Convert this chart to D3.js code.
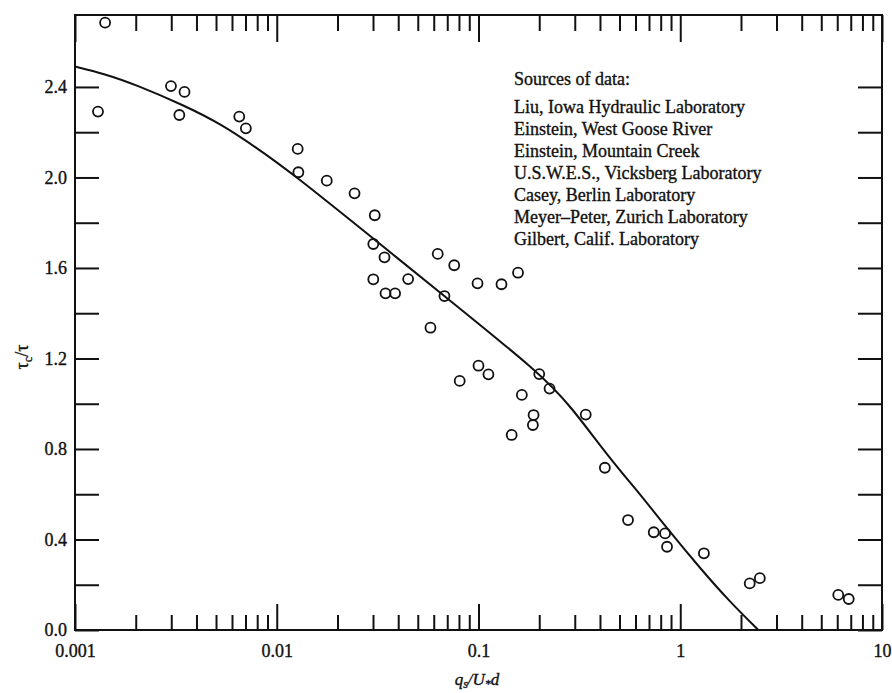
<!DOCTYPE html>
<html>
<head>
<meta charset="utf-8">
<script src="https://cdn.jsdelivr.net/npm/d3@7"></script>
<style>
  body { margin: 0; background: #fff; }
  text { font-family: "Liberation Serif", "Times New Roman", serif; fill: #111; stroke: #111; stroke-width: 0.35px; }
</style>
</head>
<body>
<div id="chart"></div>
<script>
// Critical shear ratio vs dimensionless transport, log x axis

const obsQ = [0.00141, 0.00130, 0.00299, 0.00349, 0.00329, 0.00652, 0.00703,
  0.0127, 0.0128, 0.0177, 0.0243, 0.0306, 0.0301, 0.0342, 0.0301, 0.0346,
  0.0386, 0.0448, 0.0628, 0.0758, 0.0678, 0.0578, 0.0989, 0.130, 0.157,
  0.100, 0.112, 0.0807, 0.200, 0.225, 0.164, 0.1875, 0.186, 0.146, 0.340,
  0.423, 0.551, 0.739, 0.841, 0.860, 1.31, 2.21, 2.48, 6.07, 6.84]
const obsTau = [2.684, 2.291, 2.404, 2.378, 2.276, 2.269, 2.217,
  2.126, 2.023, 1.986, 1.930, 1.833, 1.706, 1.647, 1.550, 1.488,
  1.488, 1.551, 1.662, 1.612, 1.476, 1.336, 1.532, 1.528, 1.579,
  1.168, 1.130, 1.101, 1.131, 1.067, 1.039, 0.950, 0.906, 0.862, 0.952,
  0.717, 0.486, 0.432, 0.427, 0.368, 0.339, 0.206, 0.229, 0.155, 0.137]

// Fitted curve
const fitQ = [0.001, 0.00138, 0.00202, 0.00344, 0.00523, 0.00798, 0.01163,
  0.0301, 0.0669, 0.2017, 0.284, 0.449, 0.632, 0.824, 1.301, 1.765, 2.437]
const fitTau = [2.490, 2.460, 2.409, 2.320, 2.239, 2.130, 2.026,
  1.730, 1.480, 1.135, 0.994, 0.756, 0.601, 0.469, 0.256, 0.124, 0.0]

const xMajor = [0.001, 0.01, 0.1, 1, 10]
const xMinor = [2, 3, 4, 5, 6, 7, 8, 9].flatMap(m => [0.001, 0.01, 0.1, 1].map(d => m * d))
const yMajor = [0.0, 0.4, 0.8, 1.2, 1.6, 2.0, 2.4]
const yMinor = [0.2, 0.6, 1.0, 1.4, 1.8, 2.2]

const sources = [
  "Liu, Iowa Hydraulic Laboratory",
  "Einstein, West Goose River",
  "Einstein, Mountain Creek",
  "U.S.W.E.S., Vicksberg Laboratory",
  "Casey, Berlin Laboratory",
  "Meyer\u2013Peter, Zurich Laboratory",
  "Gilbert, Calif. Laboratory"
]

const OUTER_WIDTH = 892
const OUTER_HEIGHT = 693
const MARGIN = { TOP: 15, RIGHT: 10, BOTTOM: 63, LEFT: 75 }
const WIDTH = OUTER_WIDTH - MARGIN.LEFT - MARGIN.RIGHT
const HEIGHT = OUTER_HEIGHT - MARGIN.TOP - MARGIN.BOTTOM
const INK = "#111"

const svg = d3.select("#chart")
  .append("svg")
  .attr("width", OUTER_WIDTH)
  .attr("height", OUTER_HEIGHT)

const plot = svg.append("g")
  .attr("transform", `translate(${MARGIN.LEFT},${MARGIN.TOP})`)

const x = d3.scaleLog().domain([0.001, 10]).range([0, WIDTH])
const y = d3.scaleLinear().domain([0, 2.718]).range([HEIGHT, 0])

function styleAxis(g) {
  g.select(".domain").remove()
  g.selectAll(".tick line").attr("stroke", INK).attr("stroke-width", 2)
  g.selectAll(".tick text").style("font-size", "18px").attr("fill", INK)
}

// bottom axis, ticks pointing up
plot.append("g")
  .attr("transform", `translate(0,${HEIGHT})`)
  .call(d3.axisBottom(x).tickValues(xMinor).tickSize(-15).tickFormat(""))
  .call(styleAxis)
plot.append("g")
  .attr("transform", `translate(0,${HEIGHT})`)
  .call(d3.axisBottom(x).tickValues(xMajor).tickSize(-26).tickPadding(14)
    .tickFormat(d => String(d)))
  .call(styleAxis)

// top axis, ticks pointing down
plot.append("g")
  .call(d3.axisTop(x).tickValues(xMinor).tickSize(-16).tickFormat(""))
  .call(styleAxis)
plot.append("g")
  .call(d3.axisTop(x).tickValues(xMajor).tickSize(-27).tickFormat(""))
  .call(styleAxis)

// left and right axes
plot.append("g")
  .call(d3.axisLeft(y).tickValues(yMajor).tickSize(-24).tickPadding(8)
    .tickFormat(d3.format(".1f")))
  .call(styleAxis)
plot.append("g")
  .call(d3.axisLeft(y).tickValues(yMinor).tickSize(-24).tickFormat(""))
  .call(styleAxis)
plot.append("g")
  .attr("transform", `translate(${WIDTH},0)`)
  .call(d3.axisRight(y).tickValues(yMajor.concat(yMinor)).tickSize(-24).tickFormat(""))
  .call(styleAxis)

// frame
plot.append("rect")
  .attr("width", WIDTH)
  .attr("height", HEIGHT)
  .attr("fill", "none")
  .attr("stroke", INK)
  .attr("stroke-width", 2)

// fitted curve
const line = d3.line()
  .x(i => x(fitQ[i]))
  .y(i => y(fitTau[i]))
  .curve(d3.curveBasis)

plot.append("path")
  .datum(d3.range(fitQ.length))
  .attr("d", line)
  .attr("fill", "none")
  .attr("stroke", INK)
  .attr("stroke-width", 2)

// observations
plot.selectAll("circle.obs")
  .data(d3.range(obsQ.length))
  .enter()
  .append("circle")
    .attr("class", "obs")
    .attr("cx", i => x(obsQ[i]))
    .attr("cy", i => y(obsTau[i]))
    .attr("r", 5)
    .attr("fill", "none")
    .attr("stroke", INK)
    .attr("stroke-width", 1.8)

// legend text
const legend = plot.append("g")
  .attr("transform", `translate(${514 - MARGIN.LEFT},${85 - MARGIN.TOP})`)
legend.append("text")
  .style("font-size", "18px")
  .text("Sources of data:")
legend.selectAll("text.src")
  .data(sources)
  .enter()
  .append("text")
    .attr("class", "src")
    .attr("y", (d, i) => 28 + i * 22)
    .style("font-size", "18px")
    .text(d => d)

// axis titles
const yTitle = svg.append("text")
  .attr("transform", `translate(28,357) rotate(-90)`)
  .attr("text-anchor", "middle")
  .style("font-size", "18px")
yTitle.append("tspan").text("\u03c4")
yTitle.append("tspan").attr("dy", 4).style("font-size", "12px").text("c")
yTitle.append("tspan").attr("dy", -4).text("/\u03c4")

const xTitle = svg.append("text")
  .attr("x", 477)
  .attr("y", 685)
  .attr("text-anchor", "middle")
  .style("font-size", "17px")
  .style("font-style", "italic")
xTitle.append("tspan").text("q")
xTitle.append("tspan").attr("dy", 3).style("font-size", "12px").text("s")
xTitle.append("tspan").attr("dy", -3).text("/U")
xTitle.append("tspan").attr("dy", 3).style("font-size", "12px").text("*")
xTitle.append("tspan").attr("dy", -3).text("d")
</script>
</body>
</html>
